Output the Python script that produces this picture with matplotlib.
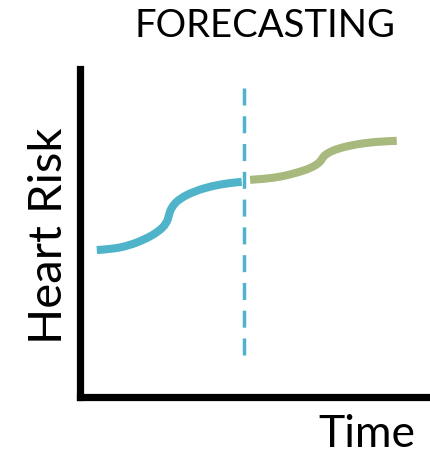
import matplotlib
matplotlib.use("Agg")
import matplotlib.pyplot as plt
from matplotlib.path import Path
from matplotlib.patches import PathPatch

# ---- data ----
time_hist = [0.48, 0.91, 1.38, 1.86, 2.24, 2.48, 2.54, 2.62, 2.86, 3.29, 3.76, 4.24, 4.62]
risk_hist = [4.48, 4.51, 4.61, 4.81, 5.04, 5.30, 5.55, 5.80, 6.06, 6.28, 6.43, 6.52, 6.56]
time_fcst = [4.86, 5.29, 5.76, 6.24, 6.62, 6.86, 6.92, 7.05, 7.38, 7.86, 8.43, 9.05]
risk_fcst = [6.62, 6.65, 6.72, 6.85, 6.99, 7.16, 7.28, 7.43, 7.58, 7.70, 7.78, 7.81]
split_time = 4.68
split_risk = [1.28, 9.48]

title = "FORECASTING"
xlabel = "Time"
ylabel = "Heart Risk"

blue = "#4fb4c9"
green = "#a8b97e"


def smooth_path(xs, ys):
    """Quadratic B-spline style path through the read points (rendered by matplotlib)."""
    pts = list(zip(xs, ys))
    verts = [pts[0]]
    codes = [Path.MOVETO]
    for i in range(1, len(pts) - 1):
        mid = ((pts[i][0] + pts[i + 1][0]) / 2, (pts[i][1] + pts[i + 1][1]) / 2)
        verts += [pts[i], mid]
        codes += [Path.CURVE3, Path.CURVE3]
    verts.append(pts[-1])
    codes.append(Path.LINETO)
    return Path(verts, codes)


W, H = 431, 454
fig = plt.figure(figsize=(W / 100, H / 100), dpi=100)
ax = fig.add_axes([80 / W, (454 - 397) / H, 350 / W, 328 / H])
ax.set_xlim(0, 10)
ax.set_ylim(0, 10)

for xs, ys, c in [(time_hist, risk_hist, blue), (time_fcst, risk_fcst, green)]:
    ax.add_patch(PathPatch(smooth_path(xs, ys), facecolor="none", edgecolor=c,
                           lw=5.8, capstyle="butt", joinstyle="round"))
ax.plot([split_time, split_time], split_risk, color=blue, lw=2.5,
        dashes=(4.9, 3.1), dash_capstyle="butt")

for s in ["top", "right"]:
    ax.spines[s].set_visible(False)
for s in ["left", "bottom"]:
    ax.spines[s].set_linewidth(5.2)
    ax.spines[s].set_color("black")
    ax.spines[s].set_capstyle("projecting")
ax.set_xticks([])
ax.set_yticks([])

font = "Lato"
fig.text(265 / W, (454 - 37) / H, title, ha="center", va="baseline", fontsize=27.5, family=font)
fig.text(367 / W, (454 - 447) / H, xlabel, ha="center", va="baseline", fontsize=32, family=font)
fig.text(49 / W, (454 - 236) / H, ylabel, ha="center", va="center", rotation=90, fontsize=34, family=font)

fig.savefig("out.png", dpi=100)
